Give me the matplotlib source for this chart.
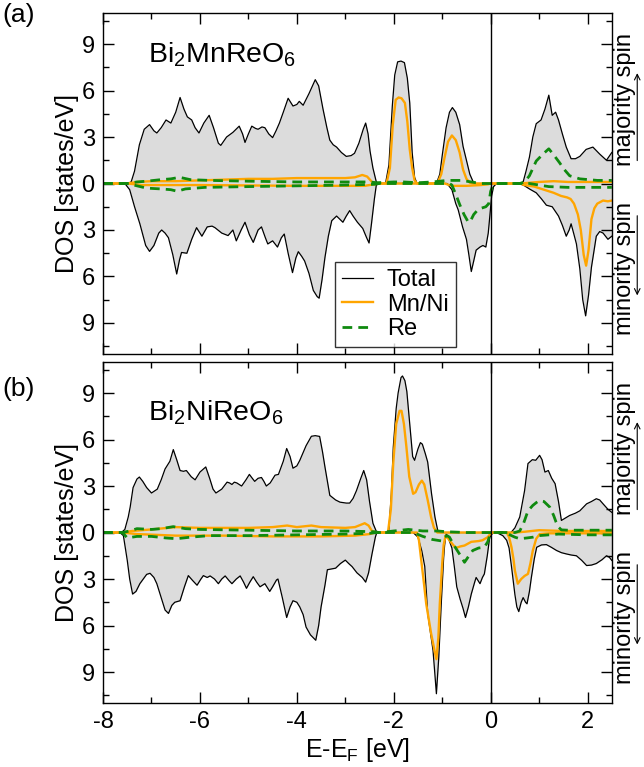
import numpy as np
import matplotlib.pyplot as plt
from matplotlib.ticker import MultipleLocator, FuncFormatter

plt.rcParams['font.family'] = ['Liberation Sans', 'DejaVu Sans']
plt.rcParams['mathtext.fontset'] = 'custom'
plt.rcParams['mathtext.rm'] = 'Liberation Sans'
plt.rcParams['mathtext.it'] = 'Liberation Sans:italic'
plt.rcParams['axes.unicode_minus'] = False

# datos: (E-E_F [eV], DOS [estados/eV])
# panel (a) Bi2MnReO6
a_tot_up = [(-8.0, 0), (-7.5, 0), (-7.42, 0.1), (-7.35, 0.8), (-7.25, 2.5), (-7.15, 3.5), (-7.04, 3.8),
            (-6.95, 3.4), (-6.89, 3.26), (-6.8, 3.6), (-6.7, 4.1), (-6.6, 3.9), (-6.5, 4.6), (-6.41, 5.55),
            (-6.33, 4.8), (-6.26, 4.3), (-6.17, 4.1), (-6.1, 3.6), (-6.02, 3.26), (-5.92, 3.9), (-5.81, 4.4),
            (-5.72, 3.6), (-5.62, 2.6), (-5.57, 2.46), (-5.45, 3.0), (-5.32, 3.3), (-5.19, 3.7), (-5.12, 3.2),
            (-5.07, 2.65), (-5.0, 3.2), (-4.93, 3.7), (-4.85, 3.55), (-4.8, 3.5), (-4.72, 3.65), (-4.66, 3.6),
            (-4.58, 3.2), (-4.5, 2.96), (-4.43, 3.4), (-4.36, 3.9), (-4.28, 4.6), (-4.18, 5.5), (-4.08, 5.0),
            (-4.0, 5.1), (-3.95, 5.3), (-3.87, 5.05), (-3.75, 5.8), (-3.62, 6.7), (-3.55, 6.3), (-3.46, 4.8),
            (-3.38, 3.6), (-3.32, 2.8), (-3.25, 2.5), (-3.18, 2.35), (-3.08, 2.0), (-2.98, 1.75), (-2.88, 1.8),
            (-2.81, 1.95), (-2.72, 2.6), (-2.63, 3.5), (-2.58, 3.9), (-2.53, 3.2), (-2.49, 2.1), (-2.43, 1.0),
            (-2.36, 0.1), (-2.3, 0), (-2.17, 0), (-2.1, 1.2), (-2.03, 5.0), (-1.98, 7.0), (-1.92, 7.85),
            (-1.85, 7.9), (-1.78, 7.8), (-1.72, 6.8), (-1.67, 5.2), (-1.62, 2.0), (-1.57, 0.4), (-1.52, 0),
            (-1.12, 0), (-1.05, 0.6), (-1.0, 1.8), (-0.92, 3.6), (-0.85, 4.6), (-0.79, 4.9), (-0.72, 4.6),
            (-0.64, 3.8), (-0.57, 2.4), (-0.5, 1.5), (-0.43, 0.6), (-0.36, 0.1), (-0.3, 0), (0.6, 0),
            (0.67, 0.1), (0.73, 0.8), (0.8, 1.7), (0.87, 3.0), (0.94, 3.86), (1.04, 4.1), (1.12, 4.8),
            (1.2, 5.7), (1.27, 4.4), (1.34, 4.6), (1.4, 4.1), (1.48, 3.2), (1.56, 2.35), (1.66, 1.6),
            (1.75, 1.6), (1.84, 1.75), (1.97, 2.2), (2.11, 2.35), (2.25, 1.9), (2.39, 1.5), (2.5, 2.0)]
a_tot_dn = [(-8.0, 0), (-7.55, 0), (-7.45, 0.4), (-7.35, 1.5), (-7.24, 2.6), (-7.12, 4.0), (-7.04, 4.38),
            (-6.95, 4.0), (-6.85, 3.2), (-6.79, 3.0), (-6.72, 3.2), (-6.65, 3.5), (-6.56, 4.6), (-6.48, 5.84),
            (-6.42, 4.9), (-6.38, 4.45), (-6.27, 4.5), (-6.17, 3.6), (-6.07, 2.85), (-5.96, 3.4), (-5.85, 2.8),
            (-5.75, 2.75), (-5.69, 2.85), (-5.55, 3.2), (-5.42, 3.36), (-5.32, 3.0), (-5.25, 3.7), (-5.15, 3.0),
            (-5.07, 2.5), (-4.98, 3.3), (-4.9, 3.8), (-4.8, 3.0), (-4.73, 2.8), (-4.65, 3.5), (-4.6, 3.9),
            (-4.5, 3.7), (-4.4, 4.1), (-4.32, 3.5), (-4.26, 3.26), (-4.18, 4.5), (-4.09, 5.75), (-4.02, 4.8),
            (-3.97, 4.4), (-3.9, 4.7), (-3.84, 5.0), (-3.75, 5.8), (-3.66, 6.9), (-3.58, 7.3), (-3.54, 7.4),
            (-3.48, 6.2), (-3.42, 4.77), (-3.35, 3.4), (-3.28, 2.4), (-3.18, 2.1), (-3.05, 2.5), (-2.98, 2.1),
            (-2.91, 1.75), (-2.84, 2.1), (-2.75, 2.5), (-2.64, 2.9), (-2.56, 3.5), (-2.51, 3.84), (-2.46, 2.6),
            (-2.4, 1.0), (-2.36, 0.1), (-2.3, 0), (-0.9, 0), (-0.8, 0.4), (-0.72, 1.3), (-0.67, 1.7),
            (-0.58, 2.8), (-0.5, 3.6), (-0.45, 4.6), (-0.4, 5.68), (-0.35, 5.0), (-0.3, 4.3), (-0.22, 4.1),
            (-0.16, 4.0), (-0.1, 4.1), (-0.05, 3.2), (-0.02, 2.2), (0.02, 0.8), (0.06, 0.2), (0.12, 0),
            (0.6, 0), (0.7, 0.15), (0.8, 0.35), (0.94, 0.6), (1.05, 1.0), (1.15, 1.4), (1.27, 1.5), (1.4, 2.1),
            (1.48, 2.7), (1.56, 3.4), (1.62, 3.0), (1.66, 2.6), (1.72, 3.3), (1.77, 3.9), (1.84, 5.5),
            (1.9, 7.5), (1.96, 8.54), (2.02, 7.2), (2.08, 5.4), (2.18, 3.4), (2.25, 3.1), (2.32, 3.2),
            (2.42, 3.6), (2.5, 3.4)]
a_mn_up = [(-8.0, 0), (-7.5, 0), (-7.3, 0.1), (-7.0, 0.15), (-6.5, 0.15), (-6.0, 0.2), (-5.5, 0.25),
           (-5.0, 0.3), (-4.5, 0.3), (-4.0, 0.35), (-3.5, 0.35), (-3.0, 0.35), (-2.8, 0.4), (-2.65, 0.55),
           (-2.55, 0.45), (-2.45, 0.1), (-2.36, 0), (-2.15, 0), (-2.08, 1.0), (-2.02, 3.8), (-1.96, 5.4),
           (-1.9, 5.55), (-1.84, 5.5), (-1.77, 5.2), (-1.72, 4.0), (-1.67, 2.2), (-1.62, 1.0), (-1.57, 0.2),
           (-1.52, 0), (-1.1, 0), (-1.02, 0.6), (-0.95, 1.7), (-0.88, 2.7), (-0.8, 3.1), (-0.72, 2.8),
           (-0.64, 2.0), (-0.57, 0.9), (-0.5, 0.3), (-0.43, 0.05), (-0.35, 0), (0.6, 0), (0.8, 0.05),
           (1.0, 0.1), (1.3, 0.15), (1.6, 0.1), (2.0, 0.1), (2.5, 0.1)]
a_mn_dn = [(-8.0, 0), (-7.5, 0), (-7.2, 0.1), (-6.0, 0.1), (-4.0, 0.15), (-2.6, 0.15), (-2.4, 0.05),
           (-2.3, 0), (-0.95, 0), (-0.8, 0.15), (-0.5, 0.15), (-0.2, 0.1), (-0.05, 0.05), (0.0, 0),
           (0.6, 0), (0.7, 0.1), (0.9, 0.2), (1.1, 0.4), (1.3, 0.6), (1.45, 0.8), (1.58, 0.9), (1.65, 1.0),
           (1.72, 1.3), (1.8, 2.0), (1.86, 3.0), (1.92, 4.6), (1.97, 5.3), (2.02, 4.3), (2.08, 2.3),
           (2.14, 1.6), (2.2, 1.3), (2.32, 1.1), (2.42, 1.15), (2.5, 1.1)]
a_re_up = [(-8.0, 0), (-7.5, 0), (-7.3, 0.1), (-7.1, 0.15), (-6.8, 0.25), (-6.6, 0.3), (-6.42, 0.4),
           (-6.2, 0.25), (-5.8, 0.2), (-5.0, 0.15), (-4.0, 0.1), (-3.0, 0.1), (-2.5, 0.1), (-2.35, 0.05),
           (-2.0, 0.1), (-1.8, 0.1), (-1.5, 0.05), (-1.2, 0.1), (-0.9, 0.2), (-0.6, 0.2), (-0.4, 0.1),
           (-0.2, 0), (0.6, 0), (0.7, 0.1), (0.8, 0.5), (0.94, 1.45), (1.08, 1.9), (1.2, 2.24), (1.3, 1.85),
           (1.42, 1.35), (1.52, 0.9), (1.63, 0.5), (1.84, 0.3), (2.2, 0.2), (2.5, 0.2)]
a_re_dn = [(-8.0, 0), (-7.5, 0), (-7.3, 0.15), (-7.1, 0.3), (-6.8, 0.35), (-6.6, 0.4), (-6.47, 0.5),
           (-6.3, 0.35), (-5.9, 0.25), (-5.0, 0.2), (-4.0, 0.15), (-3.0, 0.1), (-2.4, 0.05), (-2.3, 0),
           (-0.85, 0), (-0.8, 0.1), (-0.72, 0.7), (-0.64, 1.35), (-0.55, 2.0), (-0.47, 2.45), (-0.43, 2.5),
           (-0.35, 2.0), (-0.28, 1.75), (-0.2, 1.6), (-0.1, 1.5), (-0.04, 1.3), (0.0, 0.5), (0.05, 0.1),
           (0.1, 0), (0.8, 0), (1.0, 0.1), (1.2, 0.2), (1.6, 0.25), (2.0, 0.25), (2.5, 0.25)]

# panel (b) Bi2NiReO6
b_tot_up = [(-8.0, 0), (-7.62, 0), (-7.55, 0.2), (-7.48, 1.0), (-7.44, 1.64), (-7.38, 2.9), (-7.3, 3.45),
            (-7.25, 3.58), (-7.18, 3.3), (-7.1, 2.9), (-7.0, 2.55), (-6.88, 2.8), (-6.8, 3.4), (-6.72, 4.1),
            (-6.62, 4.6), (-6.55, 5.35), (-6.48, 4.7), (-6.41, 4.0), (-6.34, 3.95), (-6.28, 4.0), (-6.18, 3.6),
            (-6.1, 3.4), (-6.0, 3.9), (-5.88, 4.23), (-5.8, 3.5), (-5.73, 2.8), (-5.67, 2.55), (-5.55, 2.8),
            (-5.44, 3.25), (-5.39, 3.2), (-5.34, 3.1), (-5.29, 3.25), (-5.24, 3.2), (-5.14, 3.0), (-5.05, 3.4),
            (-4.98, 3.75), (-4.92, 3.5), (-4.87, 3.3), (-4.8, 3.5), (-4.73, 3.55), (-4.68, 3.3), (-4.63, 3.0),
            (-4.55, 3.2), (-4.45, 3.7), (-4.38, 3.75), (-4.28, 4.6), (-4.21, 5.42), (-4.14, 4.9), (-4.08, 4.15),
            (-4.0, 4.3), (-3.94, 4.65), (-3.81, 5.6), (-3.7, 6.21), (-3.62, 6.25), (-3.53, 6.2), (-3.47, 5.2),
            (-3.42, 4.23), (-3.32, 2.4), (-3.2, 2.1), (-3.11, 1.96), (-2.98, 1.9), (-2.91, 1.9), (-2.84, 2.2),
            (-2.77, 2.7), (-2.68, 3.5), (-2.62, 4.0), (-2.56, 3.4), (-2.5, 2.0), (-2.43, 0.6), (-2.35, 0),
            (-2.15, 0), (-2.1, 0.2), (-2.05, 2.5), (-2.01, 5.5), (-1.95, 8.0), (-1.91, 9.0), (-1.85, 10.0),
            (-1.82, 10.1), (-1.77, 9.8), (-1.73, 9.1), (-1.67, 7.0), (-1.61, 4.9), (-1.57, 4.66), (-1.5, 5.4),
            (-1.45, 5.8), (-1.41, 5.7), (-1.35, 5.1), (-1.3, 4.55), (-1.22, 2.5), (-1.15, 1.0), (-1.09, 0.1),
            (-1.05, 0), (0.42, 0), (0.5, 0.3), (0.6, 1.0), (0.7, 2.7), (0.77, 4.45), (0.86, 4.7), (0.93, 4.66),
            (1.01, 4.98), (1.06, 4.7), (1.12, 3.9), (1.19, 4.0), (1.26, 3.5), (1.33, 3.15), (1.4, 2.0),
            (1.46, 0.78), (1.55, 0.95), (1.63, 1.1), (1.75, 1.25), (1.84, 1.4), (1.98, 1.85), (2.08, 2.0),
            (2.18, 2.18), (2.25, 2.1), (2.32, 1.85), (2.42, 1.5), (2.5, 1.3)]
b_tot_dn = [(-8.0, 0), (-7.65, 0), (-7.58, 0.2), (-7.5, 1.8), (-7.45, 3.0), (-7.39, 3.97), (-7.32, 3.8),
            (-7.24, 3.3), (-7.1, 2.7), (-7.03, 2.63), (-6.95, 2.9), (-6.89, 3.3), (-6.8, 4.2), (-6.72, 5.0),
            (-6.65, 5.22), (-6.58, 4.7), (-6.52, 4.5), (-6.41, 4.4), (-6.32, 3.5), (-6.24, 2.78), (-6.15, 3.1),
            (-6.06, 3.4), (-5.98, 3.0), (-5.93, 2.78), (-5.85, 2.9), (-5.79, 2.8), (-5.7, 3.0), (-5.62, 3.3),
            (-5.55, 3.0), (-5.48, 2.8), (-5.4, 3.1), (-5.34, 3.3), (-5.25, 3.0), (-5.17, 2.8), (-5.1, 3.2),
            (-5.04, 3.6), (-4.97, 3.2), (-4.9, 2.85), (-4.83, 3.2), (-4.76, 3.5), (-4.66, 3.3), (-4.56, 3.8),
            (-4.5, 3.5), (-4.42, 3.06), (-4.39, 3.0), (-4.3, 4.2), (-4.21, 5.48), (-4.14, 4.8), (-4.08, 4.4),
            (-4.0, 4.5), (-3.94, 4.8), (-3.87, 5.3), (-3.81, 6.1), (-3.72, 6.6), (-3.61, 6.95), (-3.55, 6.0),
            (-3.5, 4.8), (-3.42, 3.4), (-3.37, 2.4), (-3.2, 2.3), (-3.1, 2.0), (-3.0, 1.78), (-2.93, 2.0),
            (-2.86, 2.2), (-2.76, 2.6), (-2.65, 2.9), (-2.58, 3.2), (-2.52, 2.6), (-2.45, 1.4), (-2.38, 0.3),
            (-2.35, 0), (-1.6, 0), (-1.5, 0.3), (-1.42, 1.2), (-1.36, 2.2), (-1.3, 5.2), (-1.24, 6.5),
            (-1.19, 7.6), (-1.15, 9.2), (-1.12, 10.4), (-1.07, 8.0), (-1.02, 4.6), (-0.97, 1.6), (-0.95, 0.8),
            (-0.92, 0.1), (-0.88, 0.3), (-0.8, 1.0), (-0.75, 2.2), (-0.7, 3.5), (-0.63, 4.3), (-0.57, 4.9),
            (-0.52, 5.48), (-0.46, 4.8), (-0.4, 3.97), (-0.33, 3.2), (-0.3, 2.9), (-0.26, 3.1), (-0.22, 3.3),
            (-0.17, 2.9), (-0.13, 2.67), (-0.07, 1.5), (-0.02, 0.3), (0.05, 0), (0.12, 0), (0.25, 0.2),
            (0.33, 0.5), (0.38, 1.0), (0.43, 2.2), (0.5, 4.0), (0.54, 4.8), (0.58, 5.1), (0.63, 4.5),
            (0.67, 4.2), (0.72, 4.5), (0.75, 4.6), (0.8, 3.8), (0.84, 2.9), (0.9, 1.7), (0.95, 0.95),
            (1.05, 0.8), (1.15, 0.78), (1.25, 0.95), (1.36, 1.16), (1.46, 1.3), (1.56, 1.38), (1.66, 1.45),
            (1.77, 1.5), (1.88, 1.8), (1.98, 2.13), (2.08, 2.1), (2.18, 2.0), (2.3, 1.75), (2.39, 1.5),
            (2.45, 1.6), (2.5, 1.8)]
b_ni_up = [(-8.0, 0), (-7.6, 0), (-7.4, 0.1), (-7.0, 0.2), (-6.5, 0.35), (-6.0, 0.3), (-5.5, 0.3),
           (-5.0, 0.3), (-4.5, 0.35), (-4.2, 0.45), (-4.0, 0.35), (-3.7, 0.45), (-3.5, 0.35), (-3.0, 0.3),
           (-2.8, 0.35), (-2.68, 0.5), (-2.6, 0.6), (-2.52, 0.45), (-2.45, 0.1), (-2.37, 0), (-2.12, 0),
           (-2.06, 1.5), (-2.01, 4.5), (-1.95, 7.0), (-1.88, 7.85), (-1.84, 7.85), (-1.79, 7.0), (-1.74, 5.55),
           (-1.68, 3.6), (-1.6, 2.5), (-1.55, 2.6), (-1.48, 3.1), (-1.42, 3.35), (-1.37, 3.1), (-1.3, 2.1),
           (-1.23, 1.0), (-1.17, 0.3), (-1.1, 0), (0.5, 0), (0.7, 0.05), (1.0, 0.15), (1.5, 0.1), (2.0, 0.1),
           (2.5, 0.1)]
b_ni_dn = [(-8.0, 0), (-7.6, 0), (-7.3, 0.1), (-6.5, 0.2), (-5.5, 0.2), (-4.5, 0.25), (-3.5, 0.25),
           (-2.8, 0.2), (-2.5, 0.1), (-2.38, 0), (-1.52, 0), (-1.48, 0.5), (-1.44, 1.6), (-1.38, 3.2),
           (-1.33, 4.6), (-1.23, 6.5), (-1.16, 7.6), (-1.12, 8.17), (-1.08, 6.8), (-1.05, 4.6), (-1.0, 2.0),
           (-0.97, 0.8), (-0.93, 0.2), (-0.9, 0.3), (-0.8, 0.7), (-0.72, 1.0), (-0.63, 0.9), (-0.54, 0.84),
           (-0.4, 0.6), (-0.25, 0.55), (-0.17, 0.5), (-0.06, 0.3), (0.0, 0.05), (0.05, 0), (0.33, 0),
           (0.38, 0.3), (0.43, 0.95), (0.47, 1.7), (0.5, 2.46), (0.56, 3.3), (0.63, 3.0), (0.7, 2.8),
           (0.77, 2.67), (0.82, 2.0), (0.87, 1.16), (0.94, 0.4), (1.01, 0.1), (1.2, 0.05), (2.5, 0.05)]
b_re_up = [(-8.0, 0), (-7.6, 0), (-7.45, 0.1), (-7.3, 0.25), (-7.0, 0.2), (-6.8, 0.25), (-6.55, 0.38),
           (-6.3, 0.25), (-6.0, 0.2), (-5.0, 0.15), (-4.0, 0.1), (-3.0, 0.1), (-2.4, 0.05), (-2.3, 0),
           (-2.0, 0.1), (-1.7, 0.2), (-1.4, 0.1), (-1.1, 0.1), (-0.9, 0.05), (-0.5, 0), (0.5, 0), (0.6, 0.1),
           (0.68, 0.6), (0.77, 1.4), (0.87, 1.75), (0.95, 1.95), (1.01, 2.07), (1.1, 2.0), (1.22, 1.64),
           (1.3, 1.1), (1.35, 0.67), (1.4, 0.35), (1.46, 0.17), (1.6, 0.15), (2.0, 0.15), (2.5, 0.15)]
b_re_dn = [(-8.0, 0), (-7.6, 0), (-7.5, 0.35), (-7.3, 0.25), (-7.0, 0.25), (-6.7, 0.35), (-6.48, 0.4),
           (-6.2, 0.3), (-5.8, 0.2), (-5.0, 0.2), (-4.0, 0.15), (-3.0, 0.1), (-2.5, 0.05), (-2.35, 0),
           (-1.6, 0), (-1.4, 0.25), (-1.2, 0.45), (-1.0, 0.55), (-0.95, 0.3), (-0.9, 0.2), (-0.85, 0.3),
           (-0.78, 0.7), (-0.71, 1.06), (-0.62, 1.5), (-0.54, 1.92), (-0.47, 1.6), (-0.37, 1.16),
           (-0.25, 1.0), (-0.13, 0.95), (-0.06, 0.6), (-0.02, 0.2), (0.05, 0), (0.3, 0), (0.43, 0.2),
           (0.5, 0.3), (0.6, 0.4), (0.75, 0.35), (0.87, 0.3), (1.0, 0.2), (1.4, 0.1), (2.0, 0.15), (2.5, 0.15)]

etiquetas = ['Total', 'Mn/Ni', 'Re']
compuestos = [r'Bi$_2$MnReO$_6$', r'Bi$_2$NiReO$_6$']
paneles = ['(a)', '(b)']

gris = '#dcdcdc'
naranja = '#ffa500'
verde = '#0f8a0f'


def xy(datos, signo=1):
    d = np.array(datos, dtype=float)
    return d[:, 0], signo * d[:, 1]


fig = plt.figure(figsize=(6.44, 7.67), dpi=100)
ax_a = fig.add_axes([0.16, 0.5385, 0.79, 0.4445])
ax_b = fig.add_axes([0.16, 0.0834, 0.79, 0.4446])

datos_paneles = [
    (ax_a, a_tot_up, a_tot_dn, a_mn_up, a_mn_dn, a_re_up, a_re_dn, 7.83),
    (ax_b, b_tot_up, b_tot_dn, b_ni_up, b_ni_dn, b_re_up, b_re_dn, 7.25),
]

for i, (ax, tu, td, mu, md, ru, rd, ytxt) in enumerate(datos_paneles):
    # area gris del total
    x, y = xy(tu)
    ax.fill_between(x, 0, y, color=gris, lw=0)
    x, y = xy(td, -1)
    ax.fill_between(x, 0, y, color=gris, lw=0)

    x, y = xy(tu)
    ax.plot(x, y, color='black', lw=0.9, label=etiquetas[0])
    x, y = xy(td, -1)
    ax.plot(x, y, color='black', lw=0.9)

    x, y = xy(mu)
    ax.plot(x, y, color=naranja, lw=1.7, label=etiquetas[1])
    x, y = xy(md, -1)
    ax.plot(x, y, color=naranja, lw=1.7)

    x, y = xy(ru)
    ax.plot(x, y, color=verde, lw=2.0, dashes=(3.5, 2.2), label=etiquetas[2])
    x, y = xy(rd, -1)
    ax.plot(x, y, color=verde, lw=2.0, dashes=(3.5, 2.2))

    ax.axvline(0, color='black', lw=1.0)

    ax.set_xlim(-8, 2.5)
    ax.set_ylim(-11, 11)
    ax.xaxis.set_major_locator(MultipleLocator(2))
    ax.xaxis.set_minor_locator(MultipleLocator(1))
    ax.yaxis.set_major_locator(MultipleLocator(3))
    ax.yaxis.set_minor_locator(MultipleLocator(1.5))
    ax.yaxis.set_major_formatter(FuncFormatter(lambda v, p: '%d' % abs(round(v))))
    ax.tick_params(which='both', direction='in', top=True, right=True, labelsize=17, width=1)
    ax.tick_params(which='major', length=8, pad=6)
    ax.tick_params(which='minor', length=4)
    for s in ax.spines.values():
        s.set_linewidth(1.0)
    ax.set_ylabel('DOS [states/eV]', fontsize=18, labelpad=2)

    ax.text(-7.07, ytxt, compuestos[i], fontsize=20.5, ha='left', va='baseline')

    # etiquetas de espin a la derecha
    ax.text(1.026, 5.4, 'majority spin', transform=ax.get_yaxis_transform(), rotation=90,
            ha='center', va='center', fontsize=17)
    ax.text(1.026, -5.5, 'minority spin', transform=ax.get_yaxis_transform(), rotation=90,
            ha='center', va='center', fontsize=17)
    ax.annotate('', xy=(1.05, 7.3), xytext=(1.05, 1.3), xycoords=ax.get_yaxis_transform(),
                arrowprops=dict(arrowstyle='->', lw=0.8, color='black'), annotation_clip=False)
    ax.annotate('', xy=(1.05, -7.4), xytext=(1.05, -1.9), xycoords=ax.get_yaxis_transform(),
                arrowprops=dict(arrowstyle='->', lw=0.8, color='black'), annotation_clip=False)

ax_a.tick_params(labelbottom=False)
ax_b.set_xlabel(r'E-E$_\mathrm{F}$ [eV]', fontsize=18, labelpad=2)

leg = ax_a.legend(loc='lower left', bbox_to_anchor=(0.456, 0.02), fontsize=17, frameon=True,
                  fancybox=False, edgecolor='black', handlelength=1.3, handletextpad=0.6,
                  labelspacing=0.1, borderpad=0.3, borderaxespad=0)
leg.get_frame().set_linewidth(1.0)

fig.text(0.003, 0.996, paneles[0], fontsize=19, ha='left', va='top')
fig.text(0.003, 0.508, paneles[1], fontsize=19, ha='left', va='top')

fig.savefig('out.png', dpi=100)
